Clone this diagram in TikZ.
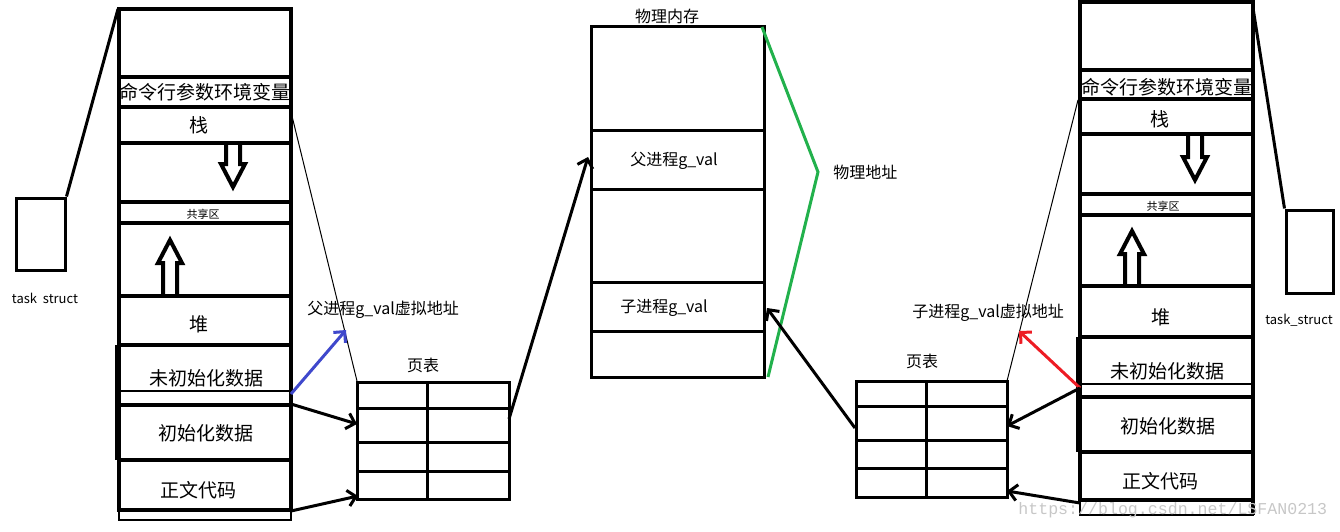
\documentclass[tikz,border=0pt]{standalone}
\usepackage{fontspec}
\setmainfont{Noto Sans CJK SC}
\newfontfamily\wmfont{Liberation Mono}
\usetikzlibrary{arrows.meta}
\definecolor{myblue}{RGB}{63,72,204}
\definecolor{myred}{RGB}{237,28,36}
\definecolor{mygreen}{RGB}{34,177,76}
\begin{document}
\begin{tikzpicture}[x=0.5pt,y=-0.5pt,
  heavy/.style={line width=2pt},
  med/.style={line width=1.5pt},
  thinl/.style={line width=0.5pt},
  hand/.style={med,-{Straight Barb[length=4pt,width=8pt,line width=1.5pt]}},
  big/.style={inner sep=0pt,font=\fontsize{9.5pt}{11pt}\selectfont},
  small/.style={inner sep=0pt,font=\fontsize{5.5pt}{6pt}\selectfont},
  lbl/.style={inner sep=0pt,font=\fontsize{8pt}{9pt}\selectfont},
  lblv/.style={inner sep=0pt,font=\fontsize{8pt}{9pt}\selectfont},
  tsl/.style={inner sep=0pt,font=\fontsize{6.5pt}{8pt}\selectfont},
  hollow/.style={heavy,line join=miter}]
\useasboundingbox (0,0) rectangle (1340,531);

% ---------- left process column ----------
\draw[heavy] (119,9) -- (119,510) (291,9) -- (291,510);
\foreach \y in {9,77,107,143,202,223,296,345,405,460,510}
  \draw[heavy] (117,\y) -- (293,\y);
\draw[line width=1pt] (119,391) -- (291,391);
\draw[line width=1pt] (119,510) rectangle (291,520);
\draw[line width=3pt] (118,345) -- (118,460);
\node[big] (Lenv) at (205,92) {命令行参数环境变量};
\node[big] (Lstack) at (199,125) {栈};
\node[small] (Lshare) at (203,214) {共享区};
\node[big] (Lheap) at (199,324) {堆};
\node[big] (Lbss) at (206,378) {未初始化数据};
\node[big] (Ldata) at (206,433) {初始化数据};
\node[big] (Ltext) at (198,490) {正文代码};
\draw[hollow] (226,143) -- (226,164) -- (221,164) -- (233,187) -- (245,164) -- (240,164) -- (240,143);
\draw[hollow] (163,296) -- (163,263) -- (158,263) -- (170,240) -- (182,263) -- (177,263) -- (177,296);

% left task_struct
\node[draw,line width=1.5pt,minimum width=24.5pt,minimum height=36pt,inner sep=0pt] (Lts) at (40.5,234) {};
\node[tsl] (Ltsl) at (45,298) {task\ \ struct};
\coordinate (Ltop) at (118,9);
\draw[med] (Lts.north east) -- (Ltop);

% left page table
\draw[med] (357,382) rectangle (509,499);
\draw[med] (427,382) -- (427,499);
\foreach \y in {408,442,471} \draw[med] (357,\y) -- (509,\y);
\node[lbl] (Lpt) at (423,365) {页表};
\coordinate (LptTL) at (357,381);
\coordinate (LptR) at (509,419);
\coordinate (LptA) at (357,424);
\coordinate (LptB) at (358,496);

\node[lblv,anchor=west] (Lva) at (307,310) {父进程g\_val虚拟地址};

\coordinate (Lenvr) at (291,112);
\coordinate (Lbssr) at (291,394);
\coordinate (Lbssr2) at (291,404);
\coordinate (Ltextr) at (291,511);
\coordinate (Lvatip) at (346,330);
\draw[thinl] (Lenvr) -- (LptTL);
\draw[med,myblue,-{Straight Barb[length=4pt,width=8pt,line width=1.5pt]}] (Lbssr) -- (Lvatip);
\draw[hand] (Lbssr2) -- (LptA);
\draw[hand] (Ltextr) -- (LptB);

% ---------- physical memory ----------
\draw[med] (591,26) rectangle (764,377);
\foreach \y in {130,189,282,331} \draw[med] (591,\y) -- (764,\y);
\node[lbl] (Pm) at (667,16) {物理内存};
\node[lbl] (Pf) at (674,161) {父进程g\_val};
\node[lbl] (Pc) at (664,308) {子进程g\_val};
\node[lbl,anchor=west] (Pa) at (833,172) {物理地址};
\coordinate (Pfl) at (588,157);
\coordinate (Pcr) at (767,308);
\draw[mygreen,med] (762,27) -- (818,172) -- (768,377);
\draw[hand] (LptR) -- (Pfl);

% ---------- right page table ----------
\draw[med] (856,381) rectangle (1007,497);
\draw[med] (926,381) -- (926,497);
\foreach \y in {406,440,468} \draw[med] (856,\y) -- (1007,\y);
\node[lbl] (Rpt) at (922,361) {页表};
\coordinate (RptL) at (855,428);
\coordinate (RptTR) at (1007,381);
\coordinate (RptA) at (1007,426);
\coordinate (RptB) at (1007,491);
\draw[hand] (RptL) -- (Pcr);

% ---------- right process column ----------
\draw[heavy] (1080,2) -- (1080,500) (1253,2) -- (1253,515);
\foreach \y in {2,70,99,134,194,215,286,337,397,452,500}
  \draw[heavy] (1078,\y) -- (1255,\y);
\draw[line width=1pt] (1080,384) -- (1253,384);
\draw[line width=1pt] (1080,500) rectangle (1253,515);
\draw[line width=3pt] (1079,337) -- (1079,452);
\node[big] (Renv) at (1167,87) {命令行参数环境变量};
\node[big] (Rstack) at (1160,119) {栈};
\node[small] (Rshare) at (1163,206) {共享区};
\node[big] (Rheap) at (1161,317) {堆};
\node[big] (Rbss) at (1167,371) {未初始化数据};
\node[big] (Rdata) at (1168,426) {初始化数据};
\node[big] (Rtext) at (1160,481) {正文代码};
\draw[hollow] (1188,134) -- (1188,157) -- (1183,157) -- (1195,180) -- (1207,157) -- (1202,157) -- (1202,134);
\draw[hollow] (1125,286) -- (1125,254) -- (1120,254) -- (1132,231) -- (1144,254) -- (1139,254) -- (1139,286);

% right task_struct
\node[draw,line width=1.5pt,minimum width=23.5pt,minimum height=41.5pt,inner sep=0pt] (Rts) at (1309.5,251.5) {};
\node[tsl] (Rtsl) at (1299,320) {task\_struct};
\coordinate (Rtop) at (1253,8);
\draw[med] (Rtop) -- (Rts.north west);

\node[lblv,anchor=west] (Rva) at (912,313) {子进程g\_val虚拟地址};
\coordinate (Renvl) at (1078,100);
\coordinate (Rbssl) at (1080,388);
\coordinate (Rvatip) at (1019,331);
\coordinate (Rtextl) at (1080,503);
\draw[thinl] (Renvl) -- (RptTR);
\draw[med,myred,-{Straight Barb[length=4pt,width=8pt,line width=1.5pt]}] (Rbssl) -- (Rvatip);
\draw[hand] (Rbssl) -- (RptA);
\draw[hand] (Rtextl) -- (RptB);

% watermark
\node[inner sep=0pt,anchor=west,text=black!22,font=\wmfont\fontsize{8.3pt}{9pt}\selectfont] (wm) at (1018,510) {https://blog.csdn.net/LSFAN0213};
\end{tikzpicture}
\end{document}
